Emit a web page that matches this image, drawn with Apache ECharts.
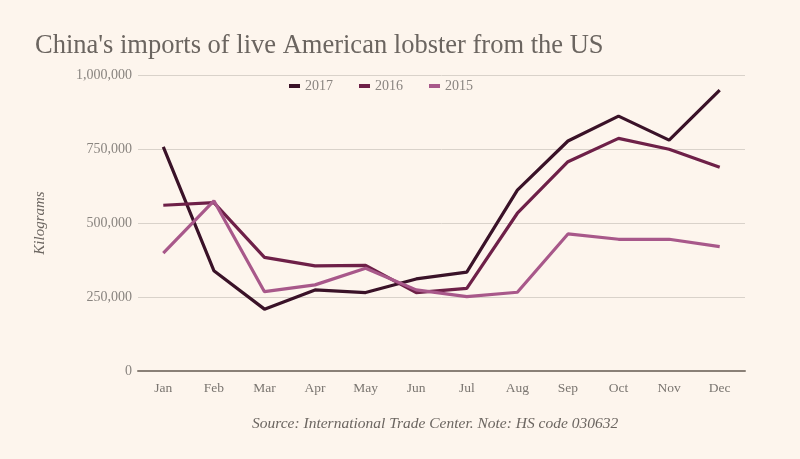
<!DOCTYPE html>
<html><head><meta charset="utf-8">
<script src="https://cdn.jsdelivr.net/npm/echarts@6/dist/echarts.min.js"></script>
<style>html,body{margin:0;padding:0;background:#fdf5ed}#c{width:800px;height:459px}</style>
</head><body><div id="c"></div>
<script>
const months = ['Jan','Feb','Mar','Apr','May','Jun','Jul','Aug','Sep','Oct','Nov','Dec'];
const s2017 = [757000,339000,209000,274000,265000,311000,334000,611000,777000,861000,780000,949000];
const s2016 = [560000,569000,384000,355000,357000,265000,279000,533000,707000,786000,749000,688000];
const s2015 = [398000,575000,268000,291000,347000,274000,251000,266000,463000,445000,445000,420000];
const chart = echarts.init(document.getElementById('c'));
const font = '"Liberation Serif", "DejaVu Serif", serif';
chart.setOption({
  backgroundColor: '#fdf5ed',
  animation: false,
  textStyle: {fontFamily: font},
  title: {text: "China's imports of live American lobster from the US", left: 30, top: 28,
    textStyle: {fontFamily: font, fontSize: 26.5, fontWeight: 'normal', color: '#6b6560'}},
  legend: {top: 74, left: 284, itemWidth: 11, itemHeight: 4, itemGap: 26, icon: 'rect',
    textStyle: {fontFamily: font, fontSize: 14, color: '#8a8580'},
    data: ['2017','2016','2015']},
  grid: {left: 138, right: 55, top: 75, bottom: 88},
  xAxis: {type: 'category', data: months, boundaryGap: true,
    axisLine: {lineStyle: {color: '#8a8077', width: 2}}, axisTick: {show: false},
    axisLabel: {fontFamily: font, fontSize: 13.5, color: '#7a7570', margin: 10}},
  yAxis: {type: 'value', min: 0, max: 1000000, interval: 250000,
    name: 'Kilograms', nameLocation: 'middle', nameGap: 90,
    nameTextStyle: {fontFamily: font, fontStyle: 'italic', fontSize: 15, color: '#6b6560'},
    axisLine: {show: false}, axisTick: {show: false},
    splitLine: {lineStyle: {color: '#d9d2ca', width: 1}},
    axisLabel: {fontFamily: font, fontSize: 14, color: '#8a8580', margin: 6,
      formatter: v => v.toLocaleString('en-US')}},
  graphic: [{type: 'text', left: 252, top: 416, style: {
    text: 'Source: International Trade Center. Note: HS code 030632',
    font: 'italic 15.5px "Liberation Serif", serif', fill: '#6b6560'}}],
  series: [
    {name: '2017', type: 'line', data: s2017, symbol: 'none', lineStyle: {width: 3.2, color: '#3a1228'}, itemStyle: {color: '#3a1228'}},
    {name: '2016', type: 'line', data: s2016, symbol: 'none', lineStyle: {width: 3.2, color: '#6e2048'}, itemStyle: {color: '#6e2048'}},
    {name: '2015', type: 'line', data: s2015, symbol: 'none', lineStyle: {width: 3.2, color: '#a8588a'}, itemStyle: {color: '#a8588a'}}
  ]
});
</script></body></html>
